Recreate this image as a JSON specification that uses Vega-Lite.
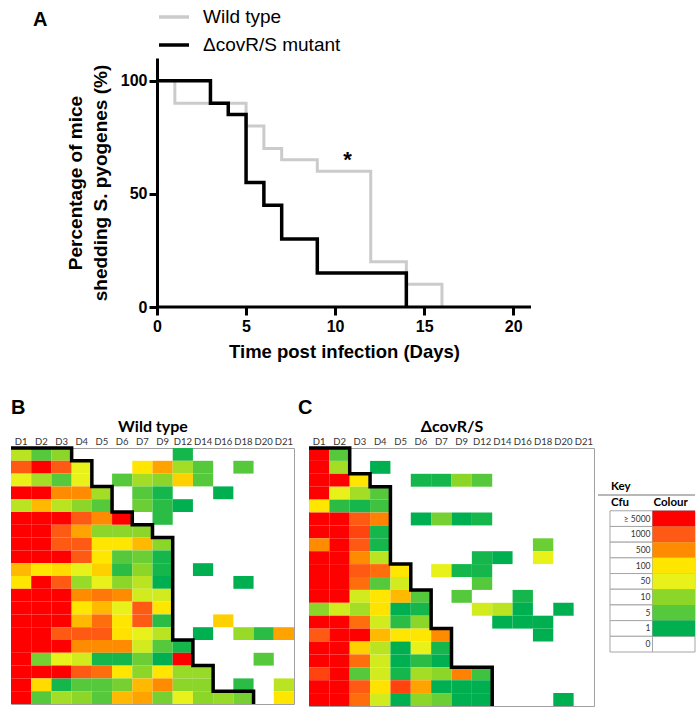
{
"$schema":"https://vega.github.io/schema/vega-lite/v6.json",
"background":"white",
"padding":{"left":3,"top":0,"right":0,"bottom":0},
"datasets":{
"surv":[
{"grp":"Wild type","day":0,"pct":100},{"grp":"Wild type","day":1,"pct":90},{"grp":"Wild type","day":5,"pct":80},{"grp":"Wild type","day":6,"pct":70},{"grp":"Wild type","day":7,"pct":65},{"grp":"Wild type","day":9,"pct":60},{"grp":"Wild type","day":12,"pct":20},{"grp":"Wild type","day":14,"pct":10},{"grp":"Wild type","day":16,"pct":0},
{"grp":"ΔcovR/S mutant","day":0,"pct":100},{"grp":"ΔcovR/S mutant","day":3,"pct":90},{"grp":"ΔcovR/S mutant","day":4,"pct":85},{"grp":"ΔcovR/S mutant","day":5,"pct":55},{"grp":"ΔcovR/S mutant","day":6,"pct":45},{"grp":"ΔcovR/S mutant","day":7,"pct":30},{"grp":"ΔcovR/S mutant","day":9,"pct":15},{"grp":"ΔcovR/S mutant","day":14,"pct":0}
],
"wt":[
{"m":1,"d":"D1","cfu":30},{"m":1,"d":"D2","cfu":5},{"m":1,"d":"D3","cfu":10},{"m":1,"d":"D12","cfu":2},
{"m":2,"d":"D1","cfu":1000},{"m":2,"d":"D2","cfu":5000},{"m":2,"d":"D3","cfu":1000},{"m":2,"d":"D4","cfu":50},{"m":2,"d":"D7","cfu":100},{"m":2,"d":"D9","cfu":400},{"m":2,"d":"D12","cfu":20},{"m":2,"d":"D14","cfu":5},{"m":2,"d":"D18","cfu":5},
{"m":3,"d":"D1","cfu":50},{"m":3,"d":"D2","cfu":20},{"m":3,"d":"D3","cfu":5},{"m":3,"d":"D4","cfu":50},{"m":3,"d":"D6","cfu":5},{"m":3,"d":"D7","cfu":20},{"m":3,"d":"D9","cfu":10},{"m":3,"d":"D12","cfu":200},{"m":3,"d":"D14","cfu":5},
{"m":4,"d":"D1","cfu":5000},{"m":4,"d":"D2","cfu":5000},{"m":4,"d":"D3","cfu":500},{"m":4,"d":"D4","cfu":500},{"m":4,"d":"D5","cfu":20},{"m":4,"d":"D7","cfu":5},{"m":4,"d":"D9","cfu":2},{"m":4,"d":"D16","cfu":1},
{"m":5,"d":"D1","cfu":30},{"m":5,"d":"D2","cfu":300},{"m":5,"d":"D3","cfu":30},{"m":5,"d":"D4","cfu":10},{"m":5,"d":"D5","cfu":5},{"m":5,"d":"D7","cfu":7},{"m":5,"d":"D9","cfu":3},{"m":5,"d":"D12","cfu":1},
{"m":6,"d":"D1","cfu":5000},{"m":6,"d":"D2","cfu":5000},{"m":6,"d":"D3","cfu":5000},{"m":6,"d":"D4","cfu":1000},{"m":6,"d":"D5","cfu":500},{"m":6,"d":"D6","cfu":5000},{"m":6,"d":"D9","cfu":3},
{"m":7,"d":"D1","cfu":5000},{"m":7,"d":"D2","cfu":5000},{"m":7,"d":"D3","cfu":1000},{"m":7,"d":"D4","cfu":400},{"m":7,"d":"D5","cfu":10},{"m":7,"d":"D6","cfu":10},{"m":7,"d":"D7","cfu":10},
{"m":8,"d":"D1","cfu":5000},{"m":8,"d":"D2","cfu":5000},{"m":8,"d":"D3","cfu":1000},{"m":8,"d":"D4","cfu":1000},{"m":8,"d":"D5","cfu":100},{"m":8,"d":"D6","cfu":100},{"m":8,"d":"D7","cfu":300},{"m":8,"d":"D9","cfu":10},
{"m":9,"d":"D1","cfu":5000},{"m":9,"d":"D2","cfu":5000},{"m":9,"d":"D3","cfu":5000},{"m":9,"d":"D4","cfu":1000},{"m":9,"d":"D5","cfu":100},{"m":9,"d":"D6","cfu":5},{"m":9,"d":"D7","cfu":7},{"m":9,"d":"D9","cfu":2},
{"m":10,"d":"D1","cfu":300},{"m":10,"d":"D2","cfu":100},{"m":10,"d":"D3","cfu":150},{"m":10,"d":"D4","cfu":50},{"m":10,"d":"D5","cfu":200},{"m":10,"d":"D6","cfu":3},{"m":10,"d":"D7","cfu":10},{"m":10,"d":"D9","cfu":2},{"m":10,"d":"D14","cfu":1},
{"m":11,"d":"D1","cfu":100},{"m":11,"d":"D2","cfu":5000},{"m":11,"d":"D3","cfu":1000},{"m":11,"d":"D4","cfu":15},{"m":11,"d":"D5","cfu":50},{"m":11,"d":"D6","cfu":10},{"m":11,"d":"D7","cfu":30},{"m":11,"d":"D9","cfu":1},{"m":11,"d":"D18","cfu":1},
{"m":12,"d":"D1","cfu":5000},{"m":12,"d":"D2","cfu":5000},{"m":12,"d":"D3","cfu":5000},{"m":12,"d":"D4","cfu":500},{"m":12,"d":"D5","cfu":700},{"m":12,"d":"D6","cfu":500},{"m":12,"d":"D7","cfu":40},{"m":12,"d":"D9","cfu":40},
{"m":13,"d":"D1","cfu":5000},{"m":13,"d":"D2","cfu":5000},{"m":13,"d":"D3","cfu":5000},{"m":13,"d":"D4","cfu":100},{"m":13,"d":"D5","cfu":300},{"m":13,"d":"D6","cfu":50},{"m":13,"d":"D7","cfu":1000},{"m":13,"d":"D9","cfu":100},
{"m":14,"d":"D1","cfu":5000},{"m":14,"d":"D2","cfu":5000},{"m":14,"d":"D3","cfu":5000},{"m":14,"d":"D4","cfu":300},{"m":14,"d":"D5","cfu":800},{"m":14,"d":"D6","cfu":100},{"m":14,"d":"D7","cfu":1000},{"m":14,"d":"D9","cfu":3},{"m":14,"d":"D16","cfu":200},
{"m":15,"d":"D1","cfu":5000},{"m":15,"d":"D2","cfu":5000},{"m":15,"d":"D3","cfu":1000},{"m":15,"d":"D4","cfu":1000},{"m":15,"d":"D5","cfu":1000},{"m":15,"d":"D6","cfu":120},{"m":15,"d":"D7","cfu":50},{"m":15,"d":"D9","cfu":30},{"m":15,"d":"D14","cfu":1},{"m":15,"d":"D18","cfu":15},{"m":15,"d":"D20","cfu":3},{"m":15,"d":"D21","cfu":400},
{"m":16,"d":"D1","cfu":5000},{"m":16,"d":"D2","cfu":5000},{"m":16,"d":"D3","cfu":5000},{"m":16,"d":"D4","cfu":500},{"m":16,"d":"D5","cfu":500},{"m":16,"d":"D6","cfu":500},{"m":16,"d":"D7","cfu":40},{"m":16,"d":"D9","cfu":5},{"m":16,"d":"D12","cfu":2},
{"m":17,"d":"D1","cfu":5000},{"m":17,"d":"D2","cfu":8},{"m":17,"d":"D3","cfu":50},{"m":17,"d":"D4","cfu":40},{"m":17,"d":"D5","cfu":2},{"m":17,"d":"D6","cfu":2},{"m":17,"d":"D7","cfu":7},{"m":17,"d":"D9","cfu":1},{"m":17,"d":"D12","cfu":5000},{"m":17,"d":"D20","cfu":5},
{"m":18,"d":"D1","cfu":5000},{"m":18,"d":"D2","cfu":5000},{"m":18,"d":"D3","cfu":5000},{"m":18,"d":"D4","cfu":1000},{"m":18,"d":"D5","cfu":800},{"m":18,"d":"D6","cfu":100},{"m":18,"d":"D7","cfu":10},{"m":18,"d":"D9","cfu":100},{"m":18,"d":"D12","cfu":15},{"m":18,"d":"D14","cfu":15},
{"m":19,"d":"D1","cfu":5000},{"m":19,"d":"D2","cfu":150},{"m":19,"d":"D3","cfu":2},{"m":19,"d":"D4","cfu":5},{"m":19,"d":"D5","cfu":5},{"m":19,"d":"D6","cfu":8},{"m":19,"d":"D7","cfu":300},{"m":19,"d":"D9","cfu":500},{"m":19,"d":"D12","cfu":10},{"m":19,"d":"D14","cfu":10},{"m":19,"d":"D18","cfu":3},{"m":19,"d":"D21","cfu":30},
{"m":20,"d":"D1","cfu":5000},{"m":20,"d":"D2","cfu":5},{"m":20,"d":"D3","cfu":20},{"m":20,"d":"D4","cfu":10},{"m":20,"d":"D5","cfu":5},{"m":20,"d":"D6","cfu":300},{"m":20,"d":"D7","cfu":400},{"m":20,"d":"D9","cfu":8},{"m":20,"d":"D12","cfu":50},{"m":20,"d":"D14","cfu":10},{"m":20,"d":"D16","cfu":15},{"m":20,"d":"D18","cfu":8},{"m":20,"d":"D21","cfu":100}
],
"mut":[
{"m":1,"d":"D1","cfu":5000},{"m":1,"d":"D2","cfu":5},
{"m":2,"d":"D1","cfu":5000},{"m":2,"d":"D2","cfu":20},{"m":2,"d":"D4","cfu":1},
{"m":3,"d":"D1","cfu":5000},{"m":3,"d":"D2","cfu":5000},{"m":3,"d":"D3","cfu":100},{"m":3,"d":"D6","cfu":2},{"m":3,"d":"D7","cfu":2},{"m":3,"d":"D9","cfu":10},{"m":3,"d":"D12","cfu":5},
{"m":4,"d":"D1","cfu":5000},{"m":4,"d":"D2","cfu":50},{"m":4,"d":"D3","cfu":20},{"m":4,"d":"D4","cfu":5},
{"m":5,"d":"D1","cfu":100},{"m":5,"d":"D2","cfu":3},{"m":5,"d":"D3","cfu":2},{"m":5,"d":"D4","cfu":4},
{"m":6,"d":"D1","cfu":5000},{"m":6,"d":"D2","cfu":5000},{"m":6,"d":"D3","cfu":1000},{"m":6,"d":"D4","cfu":600},{"m":6,"d":"D6","cfu":1},{"m":6,"d":"D7","cfu":8},{"m":6,"d":"D9","cfu":1},{"m":6,"d":"D12","cfu":2},
{"m":7,"d":"D1","cfu":5000},{"m":7,"d":"D2","cfu":5000},{"m":7,"d":"D3","cfu":2000},{"m":7,"d":"D4","cfu":2},
{"m":8,"d":"D1","cfu":500},{"m":8,"d":"D2","cfu":5000},{"m":8,"d":"D3","cfu":1000},{"m":8,"d":"D4","cfu":2},{"m":8,"d":"D18","cfu":7},
{"m":9,"d":"D1","cfu":5000},{"m":9,"d":"D2","cfu":5000},{"m":9,"d":"D3","cfu":500},{"m":9,"d":"D4","cfu":30},{"m":9,"d":"D12","cfu":2},{"m":9,"d":"D14","cfu":1},{"m":9,"d":"D18","cfu":50},
{"m":10,"d":"D1","cfu":5000},{"m":10,"d":"D2","cfu":5000},{"m":10,"d":"D3","cfu":1000},{"m":10,"d":"D4","cfu":800},{"m":10,"d":"D5","cfu":100},{"m":10,"d":"D7","cfu":50},{"m":10,"d":"D9","cfu":2},{"m":10,"d":"D12","cfu":2},
{"m":11,"d":"D1","cfu":5000},{"m":11,"d":"D2","cfu":5000},{"m":11,"d":"D3","cfu":800},{"m":11,"d":"D4","cfu":5},{"m":11,"d":"D5","cfu":40},{"m":11,"d":"D12","cfu":5},
{"m":12,"d":"D1","cfu":5000},{"m":12,"d":"D2","cfu":5000},{"m":12,"d":"D3","cfu":40},{"m":12,"d":"D4","cfu":100},{"m":12,"d":"D5","cfu":300},{"m":12,"d":"D6","cfu":5},{"m":12,"d":"D9","cfu":5},{"m":12,"d":"D16","cfu":2},
{"m":13,"d":"D1","cfu":10},{"m":13,"d":"D2","cfu":40},{"m":13,"d":"D3","cfu":20},{"m":13,"d":"D4","cfu":120},{"m":13,"d":"D5","cfu":1},{"m":13,"d":"D6","cfu":2},{"m":13,"d":"D12","cfu":40},{"m":13,"d":"D14","cfu":30},{"m":13,"d":"D16","cfu":1},{"m":13,"d":"D20","cfu":1},
{"m":14,"d":"D1","cfu":5000},{"m":14,"d":"D2","cfu":5000},{"m":14,"d":"D3","cfu":800},{"m":14,"d":"D4","cfu":40},{"m":14,"d":"D5","cfu":3},{"m":14,"d":"D6","cfu":10},{"m":14,"d":"D14","cfu":1},{"m":14,"d":"D16","cfu":1},{"m":14,"d":"D18","cfu":1},
{"m":15,"d":"D1","cfu":1000},{"m":15,"d":"D2","cfu":5000},{"m":15,"d":"D3","cfu":5000},{"m":15,"d":"D4","cfu":300},{"m":15,"d":"D5","cfu":100},{"m":15,"d":"D6","cfu":100},{"m":15,"d":"D7","cfu":500},{"m":15,"d":"D18","cfu":1},
{"m":16,"d":"D1","cfu":5000},{"m":16,"d":"D2","cfu":5000},{"m":16,"d":"D3","cfu":200},{"m":16,"d":"D4","cfu":30},{"m":16,"d":"D5","cfu":1},{"m":16,"d":"D6","cfu":50},{"m":16,"d":"D7","cfu":2},
{"m":17,"d":"D1","cfu":5000},{"m":17,"d":"D2","cfu":5000},{"m":17,"d":"D3","cfu":800},{"m":17,"d":"D4","cfu":40},{"m":17,"d":"D5","cfu":1},{"m":17,"d":"D6","cfu":3},{"m":17,"d":"D7","cfu":1},
{"m":18,"d":"D1","cfu":2000},{"m":18,"d":"D2","cfu":5000},{"m":18,"d":"D3","cfu":5},{"m":18,"d":"D4","cfu":40},{"m":18,"d":"D5","cfu":2},{"m":18,"d":"D6","cfu":20},{"m":18,"d":"D7","cfu":10},{"m":18,"d":"D9","cfu":600},{"m":18,"d":"D12","cfu":4},
{"m":19,"d":"D1","cfu":5000},{"m":19,"d":"D2","cfu":5000},{"m":19,"d":"D3","cfu":1000},{"m":19,"d":"D4","cfu":120},{"m":19,"d":"D5","cfu":2000},{"m":19,"d":"D6","cfu":400},{"m":19,"d":"D7","cfu":1},{"m":19,"d":"D9","cfu":1},{"m":19,"d":"D12","cfu":1},
{"m":20,"d":"D1","cfu":5000},{"m":20,"d":"D2","cfu":5000},{"m":20,"d":"D3","cfu":800},{"m":20,"d":"D4","cfu":40},{"m":20,"d":"D5","cfu":1},{"m":20,"d":"D6","cfu":10},{"m":20,"d":"D7","cfu":7},{"m":20,"d":"D9","cfu":1},{"m":20,"d":"D12","cfu":1},{"m":20,"d":"D20","cfu":1}
],
"wtStair":[
{"i":1,"col":0,"row":0},{"i":2,"col":3,"row":0},{"i":3,"col":3,"row":1},{"i":4,"col":4,"row":1},{"i":5,"col":4,"row":3},{"i":6,"col":5,"row":3},{"i":7,"col":5,"row":5},{"i":8,"col":6,"row":5},{"i":9,"col":6,"row":6},{"i":10,"col":7,"row":6},{"i":11,"col":7,"row":7},{"i":12,"col":8,"row":7},{"i":13,"col":8,"row":15},{"i":14,"col":9,"row":15},{"i":15,"col":9,"row":17},{"i":16,"col":10,"row":17},{"i":17,"col":10,"row":19},{"i":18,"col":12,"row":19},{"i":19,"col":12,"row":20}
],
"mutStair":[
{"i":1,"col":0,"row":0},{"i":2,"col":2,"row":0},{"i":3,"col":2,"row":2},{"i":4,"col":3,"row":2},{"i":5,"col":3,"row":3},{"i":6,"col":4,"row":3},{"i":7,"col":4,"row":9},{"i":8,"col":5,"row":9},{"i":9,"col":5,"row":11},{"i":10,"col":6,"row":11},{"i":11,"col":6,"row":14},{"i":12,"col":7,"row":14},{"i":13,"col":7,"row":17},{"i":14,"col":9,"row":17},{"i":15,"col":9,"row":20}
],
"key":[
{"lab":"≥ 5000","cfu":5000},{"lab":"1000","cfu":1000},{"lab":"500","cfu":500},{"lab":"100","cfu":100},{"lab":"50","cfu":50},{"lab":"10","cfu":10},{"lab":"5","cfu":5},{"lab":"1","cfu":1},{"lab":"0","cfu":0}
]
},
"vconcat":[
{
"width":520,"height":249,
"view":{"stroke":null},
"title":{"text":"A","anchor":"start","frame":"group","dx":22,"offset":-30,"font":"Liberation Sans","fontSize":20,"fontWeight":"bold","color":"black"},
"data":{"name":"surv"},
"layer":[
{"transform":[{"filter":"datum.grp === 'Wild type'"}],
"mark":{"type":"line","interpolate":"step-after","strokeWidth":3,"clip":false},
"encoding":{
"x":{"field":"day","type":"quantitative","scale":{"domain":[-8.2,21],"nice":false,"zero":false},
"axis":{"values":[0,5,10,15,20],"title":"Time post infection (Days)","titleX":333,"domain":false,"grid":false,"tickColor":"black","tickWidth":3,"tickSize":8,"labelFont":"Liberation Sans","labelFontSize":16,"labelFontWeight":"bold","labelColor":"black","labelPadding":3,"titleFont":"Liberation Sans","titleFontSize":18.5,"titleFontWeight":"bold","titleColor":"black","titlePadding":8}},
"y":{"field":"pct","type":"quantitative","scale":{"domain":[0,110],"nice":false},
"axis":{"values":[0,50,100],"offset":-146,"title":["Percentage of mice","shedding  S. pyogenes  (%)"],"titleLineHeight":25,"grid":false,"domainColor":"black","domainWidth":3,"tickColor":"black","tickWidth":3,"tickSize":8,"labelFont":"Liberation Sans","labelFontSize":16,"labelFontWeight":"bold","labelColor":"black","labelPadding":2,"titleFont":"Liberation Sans","titleFontSize":19,"titleFontWeight":"bold","titleColor":"black","titlePadding":10}},
"color":{"field":"grp","type":"nominal","scale":{"domain":["Wild type","ΔcovR/S mutant"],"range":["#CBCBCB","#000000"]},
"legend":{"orient":"none","legendX":146,"legendY":-58,"title":null,"direction":"vertical","labelFont":"Liberation Sans","labelFontSize":19,"labelColor":"black","symbolType":"stroke","symbolSize":900,"symbolStrokeWidth":3.5,"rowPadding":1,"labelOffset":12}}
}},
{"transform":[{"filter":"datum.grp !== 'Wild type'"}],
"mark":{"type":"line","interpolate":"step-after","strokeWidth":3.5,"clip":false},
"encoding":{
"x":{"field":"day","type":"quantitative"},
"y":{"field":"pct","type":"quantitative"},
"color":{"field":"grp","type":"nominal"}
}},
{"data":{"values":[{"from":0,"to":21}]},
"mark":{"type":"rule","color":"black","strokeWidth":3},
"encoding":{"x":{"field":"from","type":"quantitative"},"x2":{"field":"to"},"y":{"datum":0}}},
{"data":{"values":[{"note":"*"}]},
"mark":{"type":"text","font":"Liberation Sans","fontSize":22,"fontWeight":"bold","color":"black","baseline":"alphabetic"},
"encoding":{"x":{"datum":10.7},"y":{"datum":62},"text":{"field":"note"}}}
]
},
{
"hconcat":[
{
"width":283,"height":256,
"title":{"text":"B","anchor":"start","frame":"group","offset":0,"font":"Liberation Sans","fontSize":20,"fontWeight":"bold","color":"black"},
"view":{"stroke":"#A0A0A0","strokeWidth":1},
"layer":[
{"data":{"name":"wt"},"mark":{"type":"rect"},
"encoding":{
"x":{"field":"d","type":"ordinal","scale":{"domain":["D1","D2","D3","D4","D5","D6","D7","D9","D12","D14","D16","D18","D20","D21"],"paddingInner":0,"paddingOuter":0},
"axis":{"orient":"top","title":"Wild type","domain":false,"ticks":false,"labelAngle":0,"labelFont":"Lato","labelFontSize":9.5,"labelColor":"#333333","labelPadding":2,"titleFont":"Lato","titleFontSize":16,"titleFontWeight":"bold","titleColor":"black","titlePadding":2}},
"y":{"field":"m","type":"ordinal","scale":{"domain":[1,2,3,4,5,6,7,8,9,10,11,12,13,14,15,16,17,18,19,20],"paddingInner":0,"paddingOuter":0},"axis":null},
"color":{"field":"cfu","type":"quantitative","scale":{"type":"linear","domain":[1,5,10,50,100,500,1000,5000],"range":["#00B050","#55C83C","#8CD62A","#E8F21A","#FFE600","#FF8C00","#FF5A14","#FF0000"],"interpolate":"rgb","clamp":true},"legend":null}
}},
{"data":{"name":"wtStair"},"mark":{"type":"line","color":"black","strokeWidth":3.5,"clip":false,"strokeJoin":"miter"},
"encoding":{
"x":{"field":"col","type":"quantitative","scale":{"domain":[0,14],"nice":false,"zero":false},"axis":null},
"y":{"field":"row","type":"quantitative","scale":{"domain":[0,20],"nice":false,"reverse":true},"axis":null},
"order":{"field":"i"}
}}
],
"resolve":{"scale":{"x":"independent","y":"independent"}}
},
{
"width":285,"height":258,
"title":{"text":"C","anchor":"start","frame":"group","dx":-11,"offset":0,"font":"Liberation Sans","fontSize":20,"fontWeight":"bold","color":"black"},
"view":{"stroke":"#A0A0A0","strokeWidth":1},
"layer":[
{"data":{"name":"mut"},"mark":{"type":"rect"},
"encoding":{
"x":{"field":"d","type":"ordinal","scale":{"domain":["D1","D2","D3","D4","D5","D6","D7","D9","D12","D14","D16","D18","D20","D21"],"paddingInner":0,"paddingOuter":0},
"axis":{"orient":"top","title":"ΔcovR/S","domain":false,"ticks":false,"labelAngle":0,"labelFont":"Lato","labelFontSize":9.5,"labelColor":"#333333","labelPadding":2,"titleFont":"Lato","titleFontSize":16,"titleFontWeight":"bold","titleColor":"black","titlePadding":2}},
"y":{"field":"m","type":"ordinal","scale":{"domain":[1,2,3,4,5,6,7,8,9,10,11,12,13,14,15,16,17,18,19,20],"paddingInner":0,"paddingOuter":0},"axis":null},
"color":{"field":"cfu","type":"quantitative","scale":{"type":"linear","domain":[1,5,10,50,100,500,1000,5000],"range":["#00B050","#55C83C","#8CD62A","#E8F21A","#FFE600","#FF8C00","#FF5A14","#FF0000"],"interpolate":"rgb","clamp":true},"legend":null}
}},
{"data":{"name":"mutStair"},"mark":{"type":"line","color":"black","strokeWidth":3.5,"clip":false,"strokeJoin":"miter"},
"encoding":{
"x":{"field":"col","type":"quantitative","scale":{"domain":[0,14],"nice":false,"zero":false},"axis":null},
"y":{"field":"row","type":"quantitative","scale":{"domain":[0,20],"nice":false,"reverse":true},"axis":null},
"order":{"field":"i"}
}}
],
"resolve":{"scale":{"x":"independent","y":"independent"}}
},
{
"width":97,"height":204,
"view":{"stroke":null},
"data":{"name":"key"},
"layer":[
{"mark":{"type":"rect","fill":"white","stroke":"#A6A6A6","strokeWidth":1},
"encoding":{
"x":{"datum":"Cfu","type":"nominal","scale":{"domain":["Cfu","Colour"],"paddingInner":0,"paddingOuter":0.141,"align":1},"axis":null},
"y":{"field":"lab","type":"nominal","scale":{"domain":["_s1","_s2","_key","_hdr","≥ 5000","1000","500","100","50","10","5","1","0"],"paddingInner":0,"paddingOuter":0},"axis":null}
}},
{"mark":{"type":"rect","fill":"white","stroke":"#A6A6A6","strokeWidth":1},
"encoding":{"x":{"datum":"Colour","type":"nominal"},"y":{"field":"lab","type":"nominal"}}},
{"transform":[{"filter":"datum.cfu > 0"}],"mark":{"type":"rect"},
"encoding":{"x":{"datum":"Colour","type":"nominal"},"y":{"field":"lab","type":"nominal"},
"color":{"field":"cfu","type":"quantitative","scale":{"type":"linear","domain":[1,5,10,50,100,500,1000,5000],"range":["#00B050","#55C83C","#8CD62A","#E8F21A","#FFE600","#FF8C00","#FF5A14","#FF0000"],"interpolate":"rgb","clamp":true},"legend":null}}},
{"mark":{"type":"text","align":"right","baseline":"middle","dx":-2,"font":"Lato","fontSize":8.5,"color":"#333333"},
"encoding":{"x":{"datum":"Cfu","type":"nominal","bandPosition":1},"y":{"field":"lab","type":"nominal"},"text":{"field":"lab"}}},
{"data":{"values":[{"h":"Cfu"},{"h":"Colour"}]},"mark":{"type":"text","align":"left","baseline":"middle","dx":1,"font":"Lato","fontSize":11.5,"fontWeight":"bold","color":"black"},
"encoding":{"x":{"field":"h","type":"nominal","bandPosition":0},"y":{"datum":"_hdr","type":"nominal"},"text":{"field":"h"}}},
{"data":{"values":[{"h":"Key"}]},"mark":{"type":"text","align":"left","baseline":"middle","dx":1,"font":"Lato","fontSize":11.5,"fontWeight":"bold","color":"black"},
"encoding":{"x":{"datum":"Cfu","type":"nominal","bandPosition":0},"y":{"datum":"_key","type":"nominal"},"text":{"field":"h"}}},
{"data":{"values":[{"h":"line"}]},"mark":{"type":"rule","color":"#A0A0A0","strokeWidth":1.5},
"encoding":{"y":{"datum":"_hdr","type":"nominal","bandPosition":0}}}
]
}
],
"spacing":2
}
],
"spacing":36
}
